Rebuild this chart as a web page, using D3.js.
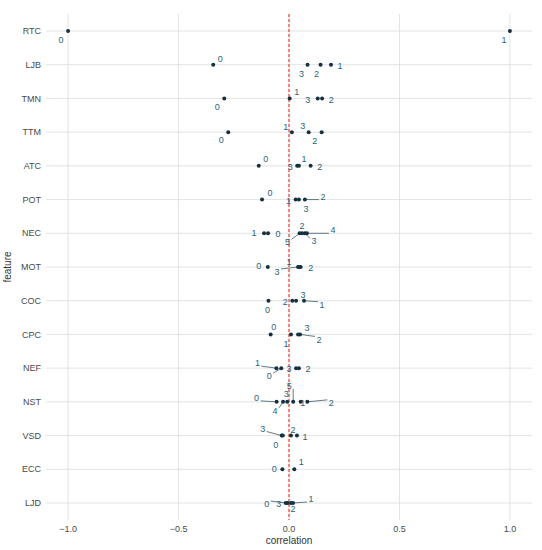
<!DOCTYPE html>
<html><head><meta charset="utf-8">
<script src="https://cdn.jsdelivr.net/npm/d3@7"></script>
<style>body{margin:0;background:#fff}text{font-family:"Liberation Sans",Arial,sans-serif}</style>
</head><body><svg id="chart" width="542" height="550"></svg>
<script>
const features = ["RTC","LJB","TMN","TTM","ATC","POT","NEC","MOT","COC","CPC","NEF","NST","VSD","ECC","LJD"]
// per feature: cluster labels and correlation values
const clusters = [
  ["0","1"], ["0","3","2","1"], ["0","1","3","2"], ["0","1","3","2"], ["0","3","1","2"],
  ["0","1","3","2"], ["1","0","5","2","3","4"], ["0","3","1","2"], ["0","2","3","1"], ["0","1","3","2"],
  ["1","0","3","2"], ["0","4","3","5","1","2"], ["3","0","2","1"], ["0","1"], ["0","3","2","1"]
]
const values = [
  [-1.0,1.0], [-0.343,0.084,0.143,0.19], [-0.293,0.003,0.13,0.15], [-0.275,0.013,0.089,0.148], [-0.137,0.037,0.045,0.098],
  [-0.122,0.03,0.045,0.072], [-0.113,-0.095,0.048,0.059,0.072,0.081], [-0.096,0.041,0.045,0.053], [-0.093,0.015,0.032,0.068], [-0.083,0.009,0.041,0.05],
  [-0.057,-0.035,0.032,0.045], [-0.056,-0.027,-0.008,0.019,0.053,0.083], [-0.033,-0.028,0.009,0.036], [-0.03,0.024], [-0.015,-0.006,0.009,0.018]
]
// label offsets in px (repel-like placement)
const offsets = [
  [[-7,9],[-6,9]], [[7,-6],[-6,9],[-4,9],[9,1]], [[-7,8],[7,-7],[-10,1],[9,1]], [[-7,8],[-6,-5],[-6,-6],[-7,9]], [[7,-7],[-7,1],[5,-7],[9,1]],
  [[8,-7],[-7,1],[7,9],[18,-3]], [[-10,0],[10,1],[-12,9],[0,-7],[9,8],[26,-3]], [[-9,-1],[-21,5],[-10,-5],[10,1]], [[-1,9],[-7,1],[7,-6],[18,4]], [[3,-8],[-5,9],[9,-7],[19,5]],
  [[-19,-5],[-12,8],[-7,1],[9,1]], [[-20,-4],[-8,9],[-1,-8],[-4,-16],[2,1],[24,1]], [[-19,-7],[-7,9],[2,-6],[8,1]], [[-8,0],[7,-7]], [[-19,1],[-9,1],[2,6],[18,-4]]
]
const xTicks = [-1.0,-0.5,0.0,0.5,1.0]

const svg = d3.select("#chart")
const m = {l:46, r:10, t:14, b:30}
const W = 542, H = 550
const x = d3.scaleLinear().domain([-1.1,1.1]).range([m.l, W-m.r])
const y = d3.scalePoint().domain(features).range([31,503])

svg.append("g").selectAll("line").data(xTicks).join("line")
  .attr("x1",d=>x(d)).attr("x2",d=>x(d)).attr("y1",m.t).attr("y2",H-m.b)
  .attr("stroke","#dcdcdc").attr("stroke-width",0.8)
svg.append("g").selectAll("line").data(features).join("line")
  .attr("x1",m.l).attr("x2",W-m.r).attr("y1",d=>y(d)).attr("y2",d=>y(d))
  .attr("stroke","#dcdcdc").attr("stroke-width",0.8)

svg.append("line").attr("x1",x(0)).attr("x2",x(0)).attr("y1",m.t).attr("y2",H-m.b)
  .attr("stroke","#f0443a").attr("stroke-width",1.2).attr("stroke-dasharray","3,2")

const pts = []
features.forEach((f,i)=>values[i].forEach((v,j)=>pts.push({f, v, c:clusters[i][j], o:offsets[i][j]})))

const g = svg.append("g")
pts.forEach(p=>{
  const px = x(p.v), py = y(p.f)
  const lx = px+p.o[0], ly = py+p.o[1]
  if (Math.hypot(p.o[0],p.o[1]) > 12) {
    g.append("line").attr("x1",px).attr("y1",py).attr("x2",lx-Math.sign(p.o[0])*4).attr("y2",ly-Math.sign(p.o[1])*3)
      .attr("stroke","#3a5a6a").attr("stroke-width",0.8)
  }
  g.append("text").attr("x",lx).attr("y",ly).attr("dy","0.35em").attr("text-anchor","middle")
    .attr("font-size",9).attr("fill","#2f5f76").text(p.c)
})
g.selectAll("circle").data(pts).join("circle")
  .attr("cx",d=>x(d.v)).attr("cy",d=>y(d.f)).attr("r",2).attr("fill","#15303f")

svg.append("g").selectAll("text").data(features).join("text")
  .attr("x",m.l-5).attr("y",d=>y(d)).attr("dy","0.35em").attr("text-anchor","end")
  .attr("font-size",9).attr("fill","#4a4a4a").text(d=>d)
svg.append("g").selectAll("text").data(xTicks).join("text")
  .attr("x",d=>x(d)).attr("y",H-m.b+12).attr("text-anchor","middle")
  .attr("font-size",9).attr("fill","#4a4a4a").text(d=>d3.format(".1f")(d))
svg.append("text").attr("x",(m.l+W-m.r)/2).attr("y",H-6).attr("text-anchor","middle")
  .attr("font-size",10).attr("fill","#333").text("correlation")
svg.append("text").attr("transform",`translate(11,${(m.t+H-m.b)/2}) rotate(-90)`).attr("text-anchor","middle")
  .attr("font-size",10).attr("fill","#333").text("feature")
</script></body></html>
